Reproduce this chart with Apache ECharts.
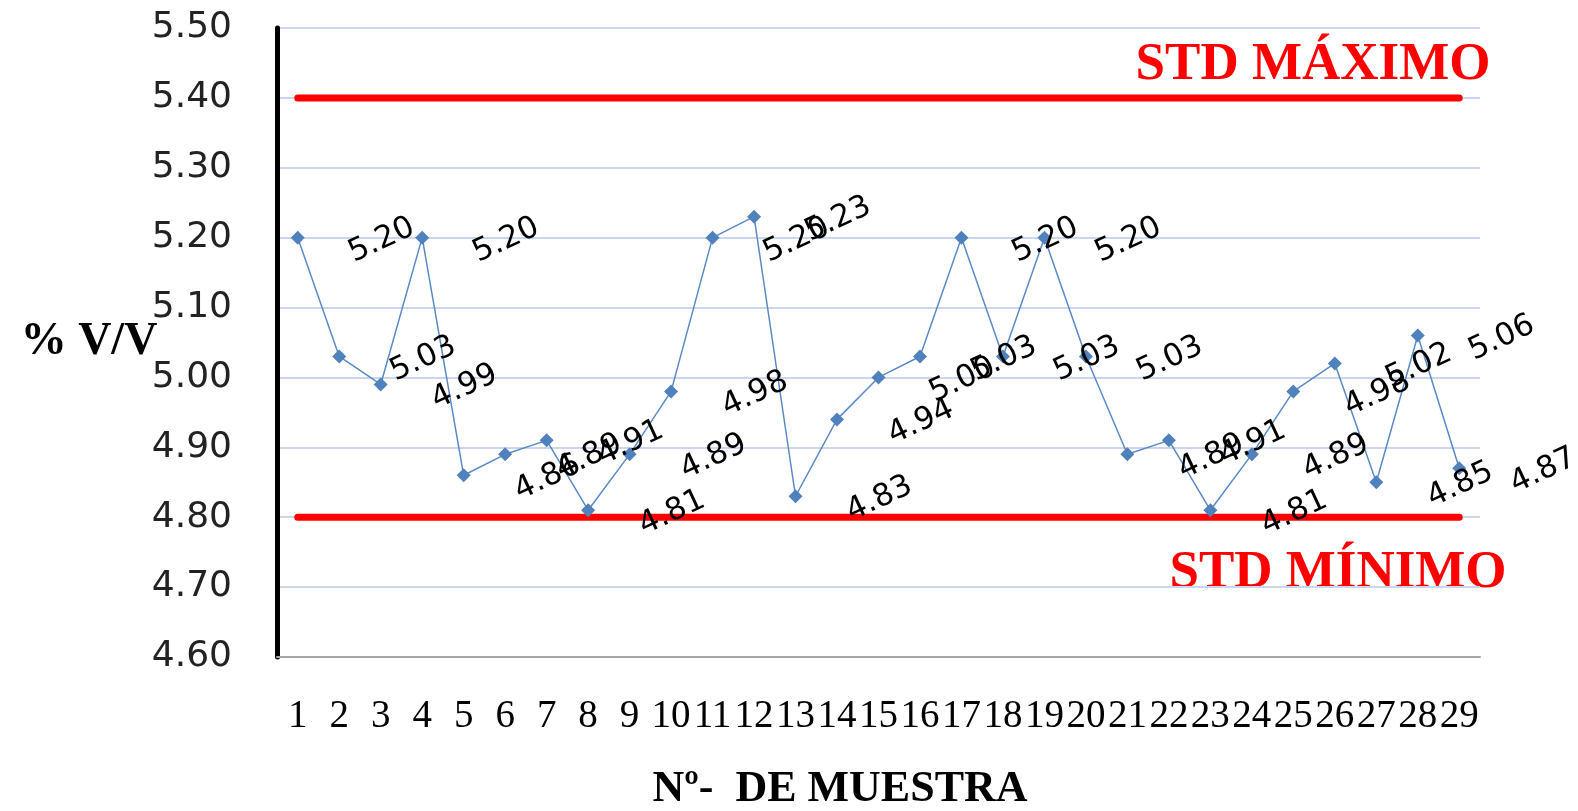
<!DOCTYPE html>
<html><head><meta charset="utf-8">
<script src="https://cdn.jsdelivr.net/npm/echarts@6/dist/echarts.min.js"></script>
<style>html,body{margin:0;padding:0;background:#fff}#c{width:1578px;height:811px}</style>
</head><body><div id="c"></div>
<script>
var categories = ['1','2','3','4','5','6','7','8','9','10','11','12','13','14','15','16','17','18','19','20','21','22','23','24','25','26','27','28','29'];
var values = [5.20,5.03,4.99,5.20,4.86,4.89,4.91,4.81,4.89,4.98,5.20,5.23,4.83,4.94,5.00,5.03,5.20,5.03,5.20,5.03,4.89,4.91,4.81,4.89,4.98,5.02,4.85,5.06,4.87];
var stdMax = 5.40;
var stdMin = 4.80;
var yMin = 4.60, yMax = 5.50, yStep = 0.10;

var maxLine = categories.map(function(){return stdMax;});
var minLine = categories.map(function(){return stdMin;});

var chart = echarts.init(document.getElementById('c'));
chart.setOption({
  animation:false,
  grid:{left:277,right:98,top:28,bottom:154,containLabel:false},
  xAxis:{type:'category',data:categories,boundaryGap:true,
    axisLine:{lineStyle:{color:'#a6a6a6',width:2}},
    axisTick:{show:false},
    axisLabel:{interval:0,hideOverlap:false,margin:40,fontFamily:'Liberation Serif',fontSize:39,color:'#000'},
    splitLine:{show:false}},
  yAxis:{type:'value',min:yMin,max:yMax,interval:yStep,
    axisLine:{show:true,lineStyle:{color:'#000',width:5}},
    axisTick:{show:false},
    axisLabel:{margin:45,fontFamily:'DejaVu Sans',fontSize:36,color:'#222',formatter:function(v){return v.toFixed(2);}},
    splitLine:{lineStyle:{color:'#c9d6ec',width:2}}},
  series:[
    {type:'line',data:maxLine,symbol:'none',lineStyle:{color:'#ff0000',width:7,cap:'round'},silent:true,z:3},
    {type:'line',data:minLine,symbol:'none',lineStyle:{color:'#ff0000',width:7,cap:'round'},silent:true,z:3},
    {type:'line',data:values,symbol:'diamond',symbolSize:14,
      itemStyle:{color:'#4f81bd'},lineStyle:{color:'#5a8ac6',width:1.5},z:4,
      label:{show:true,position:'inside',rotate:25,fontFamily:'DejaVu Sans',fontSize:31,color:'#000',
        formatter:function(p){return p.value.toFixed(2);}},
      labelLayout:{hideOverlap:false,dx:75,dy:38}}
  ],
  graphic:[
    {type:'text',x:1313,y:65,style:{text:'STD MÁXIMO',font:'bold 53px "Liberation Serif"',fill:'#ff0000',textAlign:'center',textVerticalAlign:'middle'}},
    {type:'text',x:1338,y:573,style:{text:'STD MÍNIMO',font:'bold 53px "Liberation Serif"',fill:'#ff0000',textAlign:'center',textVerticalAlign:'middle'}},
    {type:'text',x:840,y:790,style:{text:'Nº-  DE MUESTRA',font:'bold 44px "Liberation Serif"',fill:'#000',textAlign:'center',textVerticalAlign:'middle'}},
    {type:'text',x:89,y:342,style:{text:'% V/V',font:'bold 46px "Liberation Serif"',fill:'#000',textAlign:'center',textVerticalAlign:'middle'}}
  ]
});
</script></body></html>
